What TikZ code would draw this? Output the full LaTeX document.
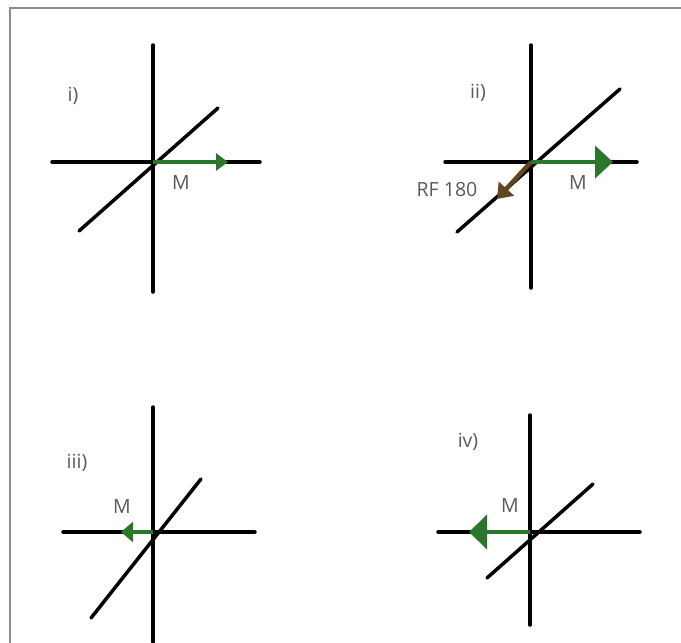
\documentclass[tikz,border=0pt]{standalone}
\usepackage{fontspec}
\setmainfont{Open Sans}
\usetikzlibrary{arrows.meta}
\definecolor{magnet}{RGB}{42,118,42}
\definecolor{rfbrown}{RGB}{96,70,28}

\begin{document}
\begin{tikzpicture}[x=1pt, y=-1pt,
  axis/.style={line width=3.5pt, line cap=round},
  mvec/.style={magnet, line width=4.5pt},
  lbl/.style={text=black!65, font=\fontsize{19.5}{23}\selectfont}]
  \useasboundingbox (0,0) rectangle (681,643);
  \draw[black!45, line width=2pt] (10,643) -- (10,8) -- (681,8);

  % i) M along +x
  \coordinate (O1) at (153,162);
  \draw[axis] (153,45) -- (153,292);
  \draw[axis] (52,162) -- (260,162);
  \draw[axis] (79,231) -- (218,108);
  \coordinate (M1) at (228,162);
  \draw[mvec, -{Triangle[length=12pt,width=17pt]}] (O1) -- (M1);
  \node[lbl] (t1) at (73,96) {i)};
  \node[lbl] (m1) at (181,183) {M};

  % ii) RF 180 pulse
  \coordinate (O2) at (531,162);
  \draw[axis] (531,45) -- (531,288);
  \draw[axis] (445,162) -- (637,162);
  \draw[axis] (457,232) -- (620,89);
  \coordinate (M2) at (613,162);
  \coordinate (R2) at (497,199);
  \draw[rfbrown, line width=4.5pt, -{Triangle[length=14pt,width=20pt]}] (O2) -- (R2);
  \draw[mvec, -{Triangle[length=18pt,width=32pt]}] (O2) -- (M2);
  \node[lbl] (t2) at (478,93) {ii)};
  \node[lbl] (m2) at (578,183) {M};
  \node[lbl] (rf) at (447,190) {RF 180};

  % iii) M reversed
  \coordinate (O3) at (153,532);
  \draw[axis] (153,407) -- (153,642);
  \draw[axis] (63,532) -- (255,532);
  \draw[axis] (91,618) -- (201,479);
  \coordinate (M3) at (121,532);
  \draw[mvec, -{Triangle[length=12pt,width=20pt]}] (O3) -- (M3);
  \node[lbl] (t3) at (77,463) {iii)};
  \node[lbl] (m3) at (122,507) {M};

  % iv) M grown back
  \coordinate (O4) at (530,532);
  \draw[axis] (530,415) -- (530,625);
  \draw[axis] (438,532) -- (640,532);
  \draw[axis] (487,578) -- (593,484);
  \coordinate (M4) at (469,532);
  \draw[mvec, -{Triangle[length=18pt,width=34pt]}] (O4) -- (M4);
  \node[lbl] (t4) at (468,442) {iv)};
  \node[lbl] (m4) at (510,506) {M};
\end{tikzpicture}
\end{document}
